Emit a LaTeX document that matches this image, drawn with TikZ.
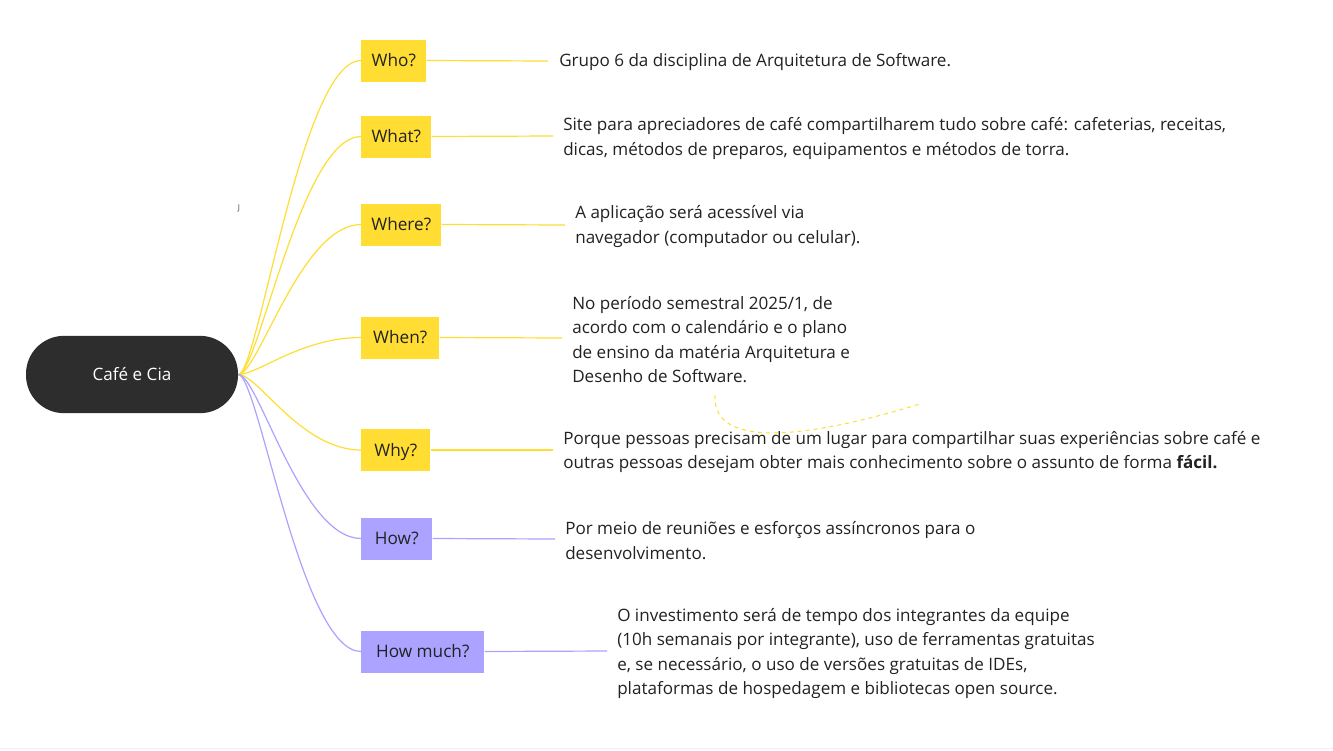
\documentclass[tikz,border=0pt]{standalone}
\usepackage{fontspec}
\setmainfont{Open Sans}
\definecolor{yel}{HTML}{FFDD33}
\definecolor{pur}{HTML}{ABA3FF}
\definecolor{dark}{HTML}{2D2D2D}
\definecolor{txt}{HTML}{222222}
\begin{document}
\begin{tikzpicture}[x=0.75pt,y=-0.75pt,
  lbl/.style={inner xsep=0pt, minimum height=31.5pt, text height=10.8pt, text depth=1.5pt, font=\fontsize{12.9}{18}\selectfont, text=txt},
  ylbl/.style={lbl, fill=yel},
  plbl/.style={lbl, fill=pur},
  desc/.style={anchor=west, align=left, inner sep=0pt, font=\fontsize{12.8}{18.4}\selectfont, text=txt},
  yline/.style={draw=yel, line width=0.9pt},
  pline/.style={draw=pur, line width=0.9pt}]
\useasboundingbox (0,0) rectangle (1333,750);
\fill[white] (0,0) rectangle (1333,750);
\draw[black!6, line width=0.75pt] (0,748.5) -- (1333,748.5);

\node[fill=dark, text=white, rounded corners=28.5pt, minimum width=159pt, minimum height=58pt, font=\fontsize{12.8}{14}\selectfont] (root) at (132,374.5) {Café e Cia};

\node[ylbl, anchor=west, minimum width=48.75pt] (who) at (361,60.5) {Who?};
\node[ylbl, anchor=west, minimum width=52.5pt] (what) at (361,136.5) {What?};
\node[ylbl, anchor=west, minimum width=60pt] (where) at (361,224.5) {Where?};
\node[ylbl, anchor=west, minimum width=58.5pt] (when) at (361,337.5) {When?};
\node[ylbl, anchor=west, minimum width=51.75pt] (why) at (361,450) {Why?};
\node[plbl, anchor=west, minimum width=53.25pt] (how) at (361,538.5) {How?};
\node[plbl, anchor=west, minimum width=92.25pt] (hm) at (361,651.5) {How much?};

\node[desc] (twho) at (559,62) {Grupo 6 da disciplina de Arquitetura de Software.};
\node[desc] (twhat) at (563,138.5) {Site para apreciadores de café compartilharem tudo sobre café: cafeterias, receitas,\\dicas, métodos de preparos, equipamentos e métodos de torra.};
\node[desc] (twhere) at (575,226.5) {A aplicação será acessível via\\navegador (computador ou celular).};
\node[desc] (twhen) at (572,339.5) {No período semestral 2025/1, de\\acordo com o calendário e o plano\\de ensino da matéria Arquitetura e\\Desenho de Software.};
\node[desc] (twhy) at (563,452) {Porque pessoas precisam de um lugar para compartilhar suas experiências sobre café e\\outras pessoas desejam obter mais conhecimento sobre o assunto de forma \textbf{fácil.}};
\node[desc] (thow) at (565,540.5) {Por meio de reuniões e esforços assíncronos para o\\desenvolvimento.};
\node[desc] (thm) at (617,653.5) {O investimento será de tempo dos integrantes da equipe\\(10h semanais por integrante), uso de ferramentas gratuitas\\e, se necessário, o uso de versões gratuitas de IDEs,\\plataformas de hospedagem e bibliotecas open source.};

\foreach \n in {who,what,where,when,why}
  \draw[yline] (root.east) .. controls ([xshift=15pt]root.east) and ([xshift=-45pt]\n.west) .. (\n.west);
\foreach \n in {how,hm}
  \draw[pline] (root.east) .. controls ([xshift=15pt]root.east) and ([xshift=-45pt]\n.west) .. (\n.west);

\coordinate (ewho) at (548,61);
\coordinate (ewhat) at (553,136);
\coordinate (ewhere) at (565,225);
\coordinate (ewhen) at (562,338);
\coordinate (ewhy) at (553,450);
\coordinate (ehow) at (555,539);
\coordinate (ehm) at (607,651);
\draw[yline] (who.east) -- (ewho);
\draw[yline] (what.east) -- (ewhat);
\draw[yline] (where.east) -- (ewhere);
\draw[yline] (when.east) -- (ewhen);
\draw[yline] (why.east) -- (ewhy);
\draw[pline] (how.east) -- (ehow);
\draw[pline] (hm.east) -- (ehm);

\coordinate (d1) at (715,395);
\coordinate (d2) at (920,404);
\draw[yel, line width=0.75pt, dash pattern=on 3pt off 3pt] (d1) .. controls (712,446) and (795,442) .. (d2);

\node[font=\fontsize{6}{7}\selectfont, text=black!70, inner sep=0pt] (jmark) at (239,208) {J};
\end{tikzpicture}
\end{document}
